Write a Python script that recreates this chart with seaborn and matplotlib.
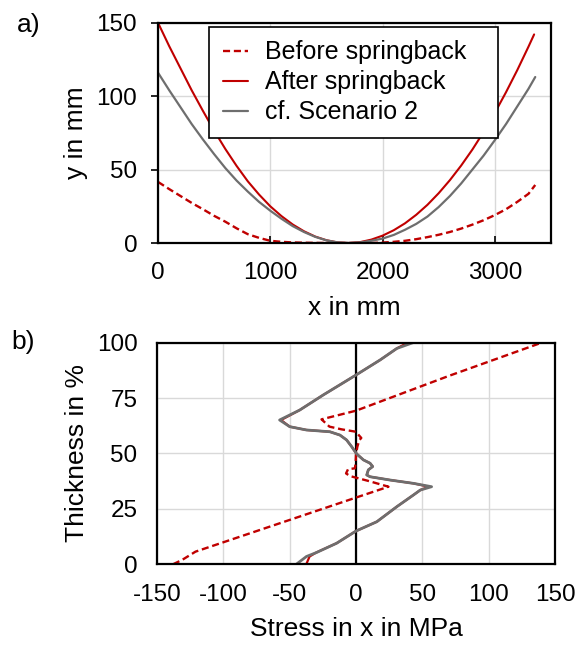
import matplotlib
matplotlib.use("Agg")
import matplotlib.pyplot as plt
import seaborn as sns

# ------------------------------------------------------
# a) bent shape, x/y in mm
# ------------------------------------------------------
x_before = [0, 100, 200, 300, 400, 500, 600, 700, 800, 900, 1000, 1100, 1200, 1300, 1400, 1500,
            1700, 1900, 2000, 2100, 2200, 2300, 2400, 2500, 2600, 2700, 2800, 2900, 3000, 3100,
            3200, 3300, 3360]
y_before = [41.6, 36.7, 32, 27.3, 23, 18.5, 14.5, 10, 6, 3.5, 1.5, 0.8, 0.4, 0.2, 0.1, 0,
            0, 0, 0.3, 0.8, 1.5, 2.6, 4, 5.6, 7.5, 9.8, 12.5, 15.5, 19, 23,
            28, 33.5, 39.5]

x_after = [0, 100, 200, 300, 400, 500, 600, 700, 800, 900, 1000, 1100, 1200, 1300, 1400, 1500,
           1600, 1700, 1800, 1900, 2000, 2100, 2200, 2300, 2400, 2500, 2600, 2700, 2800, 2900,
           3000, 3100, 3200, 3300, 3350]
y_after = [150, 134, 119, 104, 90, 76.5, 64, 52.5, 42, 33, 25, 18.3, 12.6, 8, 4.4, 1.9,
           0.4, 0, 0.6, 2.3, 5, 8.7, 13.4, 19.2, 26, 33.9, 42.8, 52.7, 63.6, 75.6,
           88.6, 102.7, 117.7, 133.7, 142]

x_scen2 = [0, 100, 200, 300, 400, 500, 600, 700, 800, 900, 1000, 1100, 1200, 1300, 1400, 1500,
           1600, 1700, 1800, 1900, 2000, 2100, 2200, 2300, 2400, 2500, 2600, 2700, 2800, 2900,
           3000, 3100, 3200, 3300, 3360]
y_scen2 = [116, 104, 92.5, 81, 70.5, 60.5, 51, 42.5, 35, 28, 22, 16.5, 11.5, 7.5, 4.2, 1.8,
           0.4, 0, 0.4, 1.5, 3, 5.5, 9, 13, 18, 24.5, 32, 40.5, 50, 59.5,
           70, 81, 93, 105, 113]

# ------------------------------------------------------
# b) stress over thickness
# ------------------------------------------------------
s_before = [-138, -131, -121, -60, 0, 24.5, 10, -4.5, -7.5, -6, -0.8, -0.3, 0, 1, 2.5, 4, 2.5, 0,
            -11, -20, -26, 0, 70, 140]
t_before = [0, 2, 5.7, 18, 30.1, 35, 37.5, 39.8, 41, 42.9, 43.3, 45.6, 49.3, 53, 56, 57, 58, 59.8,
            60.9, 62.1, 65.4, 69.3, 85, 100]

s_after = [-37.5, -35, -30, -14.6, 0, 15.7, 30.8, 43.4, 48.5, 55, 43.4, 25.8, 10.6, 8.1, 9.3, 12.6,
           10.6, 5.6, 0.5, -3.3, -7.1, -12.1, -19.7, -37.4, -50, -56.5, -42.4, -24.7, 0, 18.2, 30.8, 39]
t_after = [0, 3.5, 5.3, 9.5, 15, 19.2, 26, 31.3, 33.5, 35, 36.5, 38, 39.5, 40.3, 42.6, 44.1,
           45.6, 47.1, 49.8, 53.1, 56.1, 58.3, 59.8, 60.6, 62.1, 65.1, 69.6, 76.4, 85.4, 92.2, 97.4, 100]

s_scen2 = [-45, -37.4, -29.8, -14.6, 0, 15.7, 30.8, 43.4, 48.5, 57, 43.4, 25.8, 10.6, 8.1, 9.3, 12.6,
           10.6, 5.6, 0.5, -3.3, -7.1, -12.1, -19.7, -37.4, -50, -57.6, -42.4, -24.7, 0, 18.2, 30.8, 43]
t_scen2 = [0, 3.5, 5.3, 9.5, 15, 19.2, 26, 31.3, 33.5, 35, 36.5, 38, 39.5, 40.3, 42.6, 44.1,
           45.6, 47.1, 49.8, 53.1, 56.1, 58.3, 59.8, 60.6, 62.1, 65.1, 69.6, 76.4, 85.4, 92.2, 97.4, 100]

labels = ["Before springback", "After springback", "cf. Scenario 2"]
red = "#C00000"
grey = "#6E6E6E"

sns.set_theme(style="whitegrid")
plt.rcParams["font.family"] = ["Liberation Sans", "DejaVu Sans"]
plt.rcParams["axes.edgecolor"] = "black"
plt.rcParams["grid.color"] = "#D9D9D9"
plt.rcParams["grid.linewidth"] = 1.0
plt.rcParams["text.color"] = "black"
plt.rcParams["axes.labelcolor"] = "black"
plt.rcParams["xtick.color"] = "black"
plt.rcParams["ytick.color"] = "black"
fs_tick = 17.5
fs_lab = 19
fs_leg = 18

fig = plt.figure(figsize=(5.86, 6.48), dpi=100)
ax1 = fig.add_axes([0.2696, 0.625, 0.6706, 0.340])
ax2 = fig.add_axes([0.268, 0.1292, 0.679, 0.342])

# ---- panel a
sns.lineplot(x=x_before, y=y_before, ax=ax1, color=red, lw=1.7, ls=(0, (3, 1.6)),
             sort=False, estimator=None, label=labels[0])
sns.lineplot(x=x_after, y=y_after, ax=ax1, color=red, lw=1.5,
             sort=False, estimator=None, label=labels[1])
sns.lineplot(x=x_scen2, y=y_scen2, ax=ax1, color=grey, lw=1.6,
             sort=False, estimator=None, label=labels[2])
ax1.set_xlim(0, 3500)
ax1.set_ylim(0, 150)
ax1.set_xticks([0, 1000, 2000, 3000])
ax1.set_yticks([0, 50, 100, 150])
ax1.set_xlabel("x in mm", fontsize=fs_lab, labelpad=8)
ax1.set_ylabel("y in mm", fontsize=fs_lab, labelpad=6)
ax1.tick_params(axis="x", direction="in", length=5, width=1.2, color="black",
                bottom=True, labelsize=fs_tick, pad=14)
ax1.tick_params(axis="y", direction="out", length=5, width=1.2, color="black",
                left=True, labelsize=fs_tick, pad=10)
leg = ax1.legend(loc="upper left", bbox_to_anchor=(0.130, 0.515, 0.735, 0.467), mode="expand",
                 borderaxespad=0, fontsize=fs_leg, frameon=True, fancybox=False, framealpha=1,
                 edgecolor="black", handlelength=1.0, handletextpad=0.7,
                 labelspacing=0.24, borderpad=0.55)
leg.get_frame().set_linewidth(1.2)

# ---- panel b
ax2.axvline(0, color="black", lw=1.6, zorder=1.5)
sns.lineplot(x=s_before, y=t_before, ax=ax2, color=red, lw=1.7, ls=(0, (3, 1.6)),
             sort=False, estimator=None)
sns.lineplot(x=s_after, y=t_after, ax=ax2, color=red, lw=1.6,
             sort=False, estimator=None)
sns.lineplot(x=s_scen2, y=t_scen2, ax=ax2, color=grey, lw=2.0,
             sort=False, estimator=None)
ax2.set_xlim(-150, 150)
ax2.set_ylim(0, 100)
ax2.set_xticks([-150, -100, -50, 0, 50, 100, 150])
ax2.set_xticklabels(["-150", "-100", "-50", "0", "50", "100", "150"])
ax2.set_yticks([0, 25, 50, 75, 100])
ax2.set_xlabel("Stress in x in MPa", fontsize=fs_lab, labelpad=8)
ax2.set_ylabel("Thickness in %", fontsize=fs_lab, labelpad=6)
ax2.tick_params(axis="both", length=0, labelsize=fs_tick)
ax2.tick_params(axis="x", pad=14)
ax2.tick_params(axis="y", pad=14)

for ax in (ax1, ax2):
    for sp in ax.spines.values():
        sp.set_linewidth(1.6)
        sp.set_color("black")
    ax.grid(True)

fig.text(0.028, 0.962, "a)", fontsize=fs_lab, va="center", ha="left")
fig.text(0.020, 0.472, "b)", fontsize=fs_lab, va="center", ha="left")

fig.savefig("out.png", dpi=100)
